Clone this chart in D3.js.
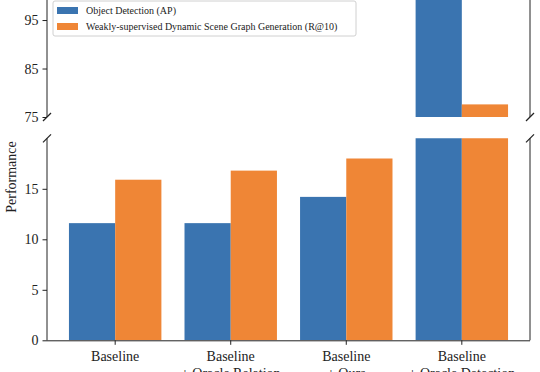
<!DOCTYPE html>
<html>
<head>
<meta charset="utf-8">
<script src="https://cdn.jsdelivr.net/npm/d3@7"></script>
<style>
  body { margin: 0; background: #fff; }
  svg { display: block; font-family: "Liberation Serif", "Times New Roman", serif; }
</style>
</head>
<body>
<div id="chart"></div>
<script>
const categories = [
  ["Baseline"],
  ["Baseline", "+ Oracle Relation"],
  ["Baseline", "+ Ours"],
  ["Baseline", "+ Oracle Detection"]
];
const seriesNames = ["Object Detection (AP)", "Weakly-supervised Dynamic Scene Graph Generation (R@10)"];
const detectionAP = [11.6, 11.6, 14.2, 100];
const sggRecall = [15.9, 16.8, 18.0, 77.6];
const lowerTicks = [0, 5, 10, 15];
const upperTicks = [75, 85, 95];

const colors = ["#3a74b0", "#ef8636"];
const width = 540, height = 372;
const left = 47, right = 530;

const svg = d3.select("#chart").append("svg")
  .attr("width", width)
  .attr("height", height);

const x = d3.scaleBand()
  .domain(d3.range(categories.length))
  .range([left, right])
  .paddingInner(0.2)
  .paddingOuter(0.19);

const xs = d3.scaleBand()
  .domain([0, 1])
  .range([0, x.bandwidth()]);

// two panels of the broken axis
const yLow = d3.scaleLinear().domain([0, 20]).range([340.3, 138.3]);
const yHigh = d3.scaleLinear().domain([75, 100]).range([117, -4.2]);

const series = [detectionAP, sggRecall];

function panel(y, ticks, id) {
  const [y0, y1] = y.range();
  svg.append("clipPath").attr("id", id)
    .append("rect")
    .attr("x", left).attr("y", y1)
    .attr("width", right - left).attr("height", y0 - y1);

  const g = svg.append("g").attr("clip-path", `url(#${id})`);
  series.forEach((vals, s) => {
    g.selectAll(null)
      .data(vals)
      .join("rect")
      .attr("x", (d, i) => x(i) + xs(s))
      .attr("width", xs.bandwidth())
      .attr("y", d => y(Math.min(d, y.domain()[1] + 5)))
      .attr("height", d => Math.max(0, y(y.domain()[0]) - y(Math.min(d, y.domain()[1] + 5))))
      .attr("fill", colors[s]);
  });

  const ax = svg.append("g")
    .attr("transform", `translate(${left},0)`)
    .call(d3.axisLeft(y).tickValues(ticks).tickSize(4.5).tickPadding(4));
  ax.select(".domain").remove();
  ax.selectAll("line").attr("stroke", "#222").attr("stroke-width", 1);
  ax.selectAll("text").attr("font-size", 14).attr("fill", "#222")
    .attr("font-family", "Liberation Serif");

  // spines
  [left, right].forEach(sx => {
    svg.append("line")
      .attr("x1", sx).attr("x2", sx)
      .attr("y1", y0).attr("y2", y1)
      .attr("stroke", "#222").attr("stroke-width", 1);
  });
}

panel(yHigh, upperTicks, "clipHigh");
panel(yLow, lowerTicks, "clipLow");

// break marks
const breakYs = [yHigh.range()[0], yLow.range()[1]];
breakYs.forEach(by => {
  [left, right].forEach(bx => {
    svg.append("line")
      .attr("x1", bx - 4).attr("y1", by + 4)
      .attr("x2", bx + 4).attr("y2", by - 4)
      .attr("stroke", "#222").attr("stroke-width", 1.2);
  });
});

// bottom x axis
const xAxis = svg.append("g")
  .attr("transform", `translate(0,${yLow.range()[0]})`)
  .call(d3.axisBottom(x).tickSize(4.5).tickFormat(""));
xAxis.select(".domain").attr("d", `M${left},0.5H${right}`).attr("stroke", "#222");
xAxis.selectAll("line").attr("stroke", "#222");
xAxis.selectAll(".tick").each(function(d) {
  const t = d3.select(this).append("text")
    .attr("fill", "#222")
    .attr("font-size", 14)
    .attr("font-family", "Liberation Serif")
    .attr("text-anchor", "middle");
  categories[d].forEach((line, k) => {
    t.append("tspan").attr("x", 0).attr("y", 21 + k * 17).text(line);
  });
});

// y label
svg.append("text")
  .attr("transform", "translate(16,177) rotate(-90)")
  .attr("text-anchor", "middle")
  .attr("font-size", 14)
  .attr("fill", "#222")
  .text("Performance");

// legend
const lg = svg.append("g").attr("transform", "translate(53,1)");
lg.append("rect")
  .attr("width", 303).attr("height", 35)
  .attr("rx", 2)
  .attr("fill", "#fff").attr("fill-opacity", 0.8)
  .attr("stroke", "#d0d0d0");
seriesNames.forEach((name, i) => {
  lg.append("rect")
    .attr("x", 4).attr("y", 6 + i * 16)
    .attr("width", 21).attr("height", 7)
    .attr("fill", colors[i]);
  lg.append("text")
    .attr("x", 33).attr("y", 13 + i * 16)
    .attr("font-size", 10)
    .attr("fill", "#222")
    .text(name);
});
</script>
</body>
</html>
